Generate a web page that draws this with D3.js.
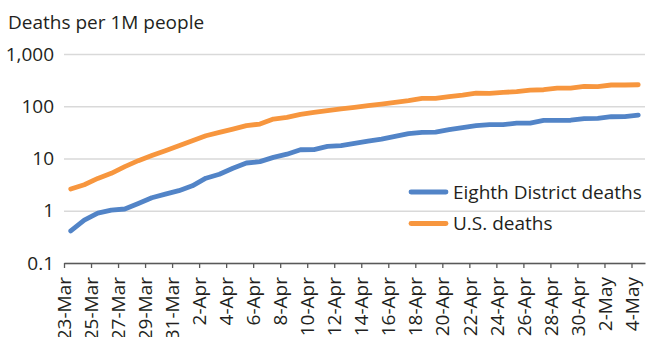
<!DOCTYPE html>
<html>
<head>
<meta charset="utf-8">
<script src="https://cdn.jsdelivr.net/npm/d3@7"></script>
<style>
  body { margin: 0; background: #fff; }
  svg { display: block; font-family: "Open Sans", sans-serif; }
</style>
</head>
<body>
<div id="chart-area"></div>
<script>
// Dates, one per day from 23-Mar to 4-May 2020
var dates = d3.timeDays(new Date(2020, 2, 23), new Date(2020, 4, 5));

// Deaths per 1M people
var districtDeaths = [0.41, 0.66, 0.9, 1.03, 1.08, 1.38, 1.77, 2.08, 2.42, 3.0,
  4.2, 5.0, 6.5, 8.2, 8.7, 10.5, 12.1, 14.7, 14.8, 17.0,
  17.6, 19.5, 21.5, 23.5, 26.5, 29.9, 31.6, 32.0, 35.6, 38.9,
  42.5, 44.5, 44.5, 47.7, 47.5, 53.7, 53.7, 54.0, 57.9, 58.6,
  63.0, 63.5, 67.8];
var usDeaths = [2.6, 3.15, 4.16, 5.2, 7.0, 9.1, 11.4, 14.1, 17.6, 21.9,
  27.3, 31.6, 36.6, 42.5, 45.6, 56.9, 61.3, 70.0, 76.4, 82.4,
  89.0, 95.3, 102.7, 110.0, 119.0, 128.0, 141.6, 141.6, 153.0, 164.0,
  179.0, 177.0, 185.0, 190.0, 204.0, 207.0, 223.0, 223.0, 241.0, 238.0,
  255.0, 255.0, 258.0];

var seriesNames = ["Eighth District deaths", "U.S. deaths"];
var yTicks = [0.1, 1, 10, 100, 1000];

var W = 647, H = 337;
var plot = { left: 64, right: 645, top: 54, bottom: 263 };
var fontSize = "19px";
var textColor = "#231f20";

var svg = d3.select("#chart-area")
  .append("svg")
  .attr("width", W)
  .attr("height", H);

// X scale: one band per day, ticks on day boundaries
var x = d3.scaleTime()
  .domain([dates[0], d3.timeDay.offset(dates[dates.length - 1], 1)])
  .range([plot.left, plot.right]);

// Y scale, log
var y = d3.scaleLog()
  .domain([0.1, 1000])
  .range([plot.bottom, plot.top]);

// Gridlines + y labels
var yAxis = d3.axisLeft(y)
  .tickValues(yTicks)
  .tickSize(-(plot.right - plot.left))
  .tickPadding(10)
  .tickFormat(d3.format(","));

var gy = svg.append("g")
  .attr("transform", "translate(" + plot.left + ",0)")
  .call(yAxis);
gy.select(".domain").remove();
gy.selectAll(".tick line")
  .attr("stroke", "#d9d9d9")
  .attr("stroke-width", 1.3);
gy.selectAll(".tick text")
  .attr("font-size", fontSize)
  .attr("fill", textColor)
  .attr("font-family", "'Open Sans', sans-serif");

// Bottom axis, tick every 2 days
var xTicks = dates.filter(function(d, i) { return i % 2 === 0; });
var xAxis = d3.axisBottom(x)
  .tickValues(xTicks)
  .tickSize(5)
  .tickSizeOuter(0)
  .tickFormat(d3.timeFormat("%-d-%b"));

var gx = svg.append("g")
  .attr("transform", "translate(0," + plot.bottom + ")")
  .call(xAxis);
gx.select(".domain")
  .attr("stroke", "#595959")
  .attr("stroke-width", 1.5);
gx.selectAll(".tick line")
  .attr("stroke", "#595959")
  .attr("stroke-width", 1.3);
gx.selectAll(".tick text")
  .attr("font-size", fontSize)
  .attr("fill", textColor)
  .attr("font-family", "'Open Sans', sans-serif")
  .attr("text-anchor", "end")
  .attr("transform", "rotate(-90)")
  .attr("x", -14)
  .attr("y", 0)
  .attr("dy", "0.35em");

// Lines, each point in the middle of its day
var mid = function(d) { return d3.timeHour.offset(d, 12); };
var line = d3.line()
  .x(function(d, i) { return x(mid(dates[i])); })
  .y(function(d) { return y(d); });

var colors = ["#5284c7", "#f7963e"];
var series = [districtDeaths, usDeaths];

svg.selectAll("path.series")
  .data(series)
  .enter()
  .append("path")
  .attr("class", "series")
  .attr("d", line)
  .attr("fill", "none")
  .attr("stroke", function(d, i) { return colors[i]; })
  .attr("stroke-width", 4.8)
  .attr("stroke-linejoin", "round")
  .attr("stroke-linecap", "round");

// Legend
var legend = svg.selectAll("g.legend")
  .data(seriesNames)
  .enter()
  .append("g")
  .attr("class", "legend")
  .attr("transform", function(d, i) { return "translate(411," + (192 + i * 31.5) + ")"; });

legend.append("line")
  .attr("x1", 0)
  .attr("x2", 35)
  .attr("stroke", function(d, i) { return colors[i]; })
  .attr("stroke-width", 4.8)
  .attr("stroke-linecap", "round");

legend.append("text")
  .attr("x", 42)
  .attr("dy", "0.36em")
  .attr("font-size", fontSize)
  .attr("fill", textColor)
  .text(function(d) { return d; });

// Title
svg.append("text")
  .attr("x", 8)
  .attr("y", 29)
  .attr("font-size", fontSize)
  .attr("fill", textColor)
  .text("Deaths per 1M people");
</script>
</body>
</html>
